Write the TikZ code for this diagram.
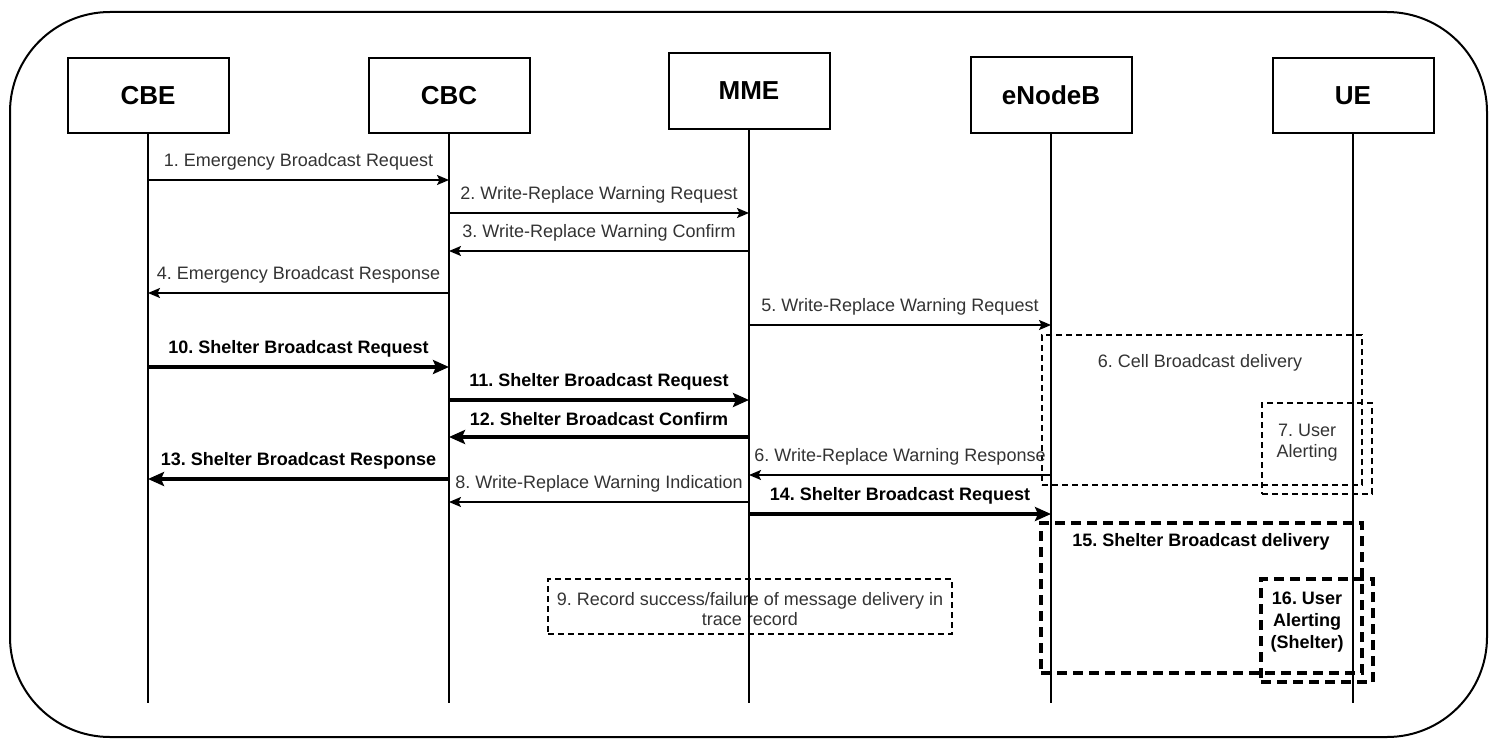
\documentclass[tikz,border=0pt]{standalone}
\usepackage{fontspec}
\setmainfont{Liberation Sans}
\usetikzlibrary{arrows.meta}
\definecolor{lbl}{HTML}{333333}
\frenchspacing
\newcommand{\msgline}[6]{\draw[#4] (#1.south |- 0,#3) -- node[#5, yshift=18pt] {#6} (#2.south |- 0,#3);}
\begin{document}
\frenchspacing
\begin{tikzpicture}[x=1pt,y=-1pt,
  actor/.style={draw, line width=2pt, minimum width=161pt, minimum height=75pt, inner sep=0pt, font=\fontsize{26}{30}\selectfont\bfseries},
  life/.style={line width=2pt},
  thinmsg/.style={line width=2pt, -{Stealth[length=12pt,width=10pt,inset=2.5pt]}},
  thickmsg/.style={line width=4pt, -{Stealth[length=16pt,width=14pt,inset=3pt]}},
  lab/.style={font=\fontsize{18}{21}\selectfont, text=lbl, inner sep=0pt, align=center},
  blab/.style={font=\fontsize{18}{21}\selectfont\bfseries, inner sep=0pt, align=center},
  thinbox/.style={draw, line width=1.5pt, dash pattern=on 6pt off 4pt, inner sep=0pt},
  thickbox/.style={draw, line width=4pt, dash pattern=on 10pt off 6pt, inner sep=0pt},
]
\useasboundingbox (0,0) rectangle (1499,752);
% outer frame
\draw[line width=2pt, rounded corners=100pt] (10,12) rectangle (1487,737);

% actors
\node[actor] (cbe) at (148,95.5) {CBE};
\node[actor] (cbc) at (449,95.5) {CBC};
\node[actor] (mme) at (749,91) {MME};
\node[actor] (enb) at (1051,95) {eNodeB};
\node[actor] (ue)  at (1353,95.5) {UE};

% dashed boxes
\node[thinbox, minimum width=320pt, minimum height=150pt] (b6) at (1202,410) {};
\node[lab] (b6t) at (1200,363) {6. Cell Broadcast delivery};
\node[thinbox, minimum width=110pt, minimum height=91pt] (b7) at (1317,448.5) {};
\node[lab] (b7t) at (1307,443) {7. User\\Alerting};
\node[thickbox, minimum width=321pt, minimum height=150pt] (b15) at (1201.5,598) {};
\node[blab] (b15t) at (1201,542) {15. Shelter Broadcast delivery};
\node[thickbox, minimum width=112pt, minimum height=103pt] (b16) at (1317,630.5) {};
\node[blab, font=\fontsize{18}{22}\selectfont\bfseries] (b16t) at (1307,622) {16. User\\Alerting\\(Shelter)};
\node[thinbox, minimum width=404pt, minimum height=55pt] (b9) at (750,606.5) {};
\node[lab, font=\fontsize{18}{20}\selectfont] (b9t) at (750,609) {9. Record success/failure of message delivery in\\trace record};

% lifelines
\coordinate (bottom) at (0,703);
\foreach \a in {cbe,cbc,mme,enb,ue} {
  \draw[life] (\a.south) -- (\a.south |- bottom);
}

% messages
\msgline{cbe}{cbc}{180}{thinmsg}{lab}{1. Emergency Broadcast Request}
\msgline{cbc}{mme}{213}{thinmsg}{lab}{2. Write-Replace Warning Request}
\msgline{mme}{cbc}{251}{thinmsg}{lab}{3. Write-Replace Warning Confirm}
\msgline{cbc}{cbe}{293}{thinmsg}{lab}{4. Emergency Broadcast Response}
\msgline{mme}{enb}{325}{thinmsg}{lab}{5. Write-Replace Warning Request}
\msgline{cbe}{cbc}{367}{thickmsg}{blab}{10. Shelter Broadcast Request}
\msgline{cbc}{mme}{400}{thickmsg}{blab}{11. Shelter Broadcast Request}
\msgline{mme}{cbc}{437}{thickmsg}{blab}{12. Shelter Broadcast Confirm}
\msgline{cbc}{cbe}{479}{thickmsg}{blab}{13. Shelter Broadcast Response}
\msgline{enb}{mme}{475}{thinmsg}{lab}{6. Write-Replace Warning Response}
\msgline{mme}{cbc}{502}{thinmsg}{lab}{8. Write-Replace Warning Indication}
\msgline{mme}{enb}{514}{thickmsg}{blab}{14. Shelter Broadcast Request}
\end{tikzpicture}
\end{document}
